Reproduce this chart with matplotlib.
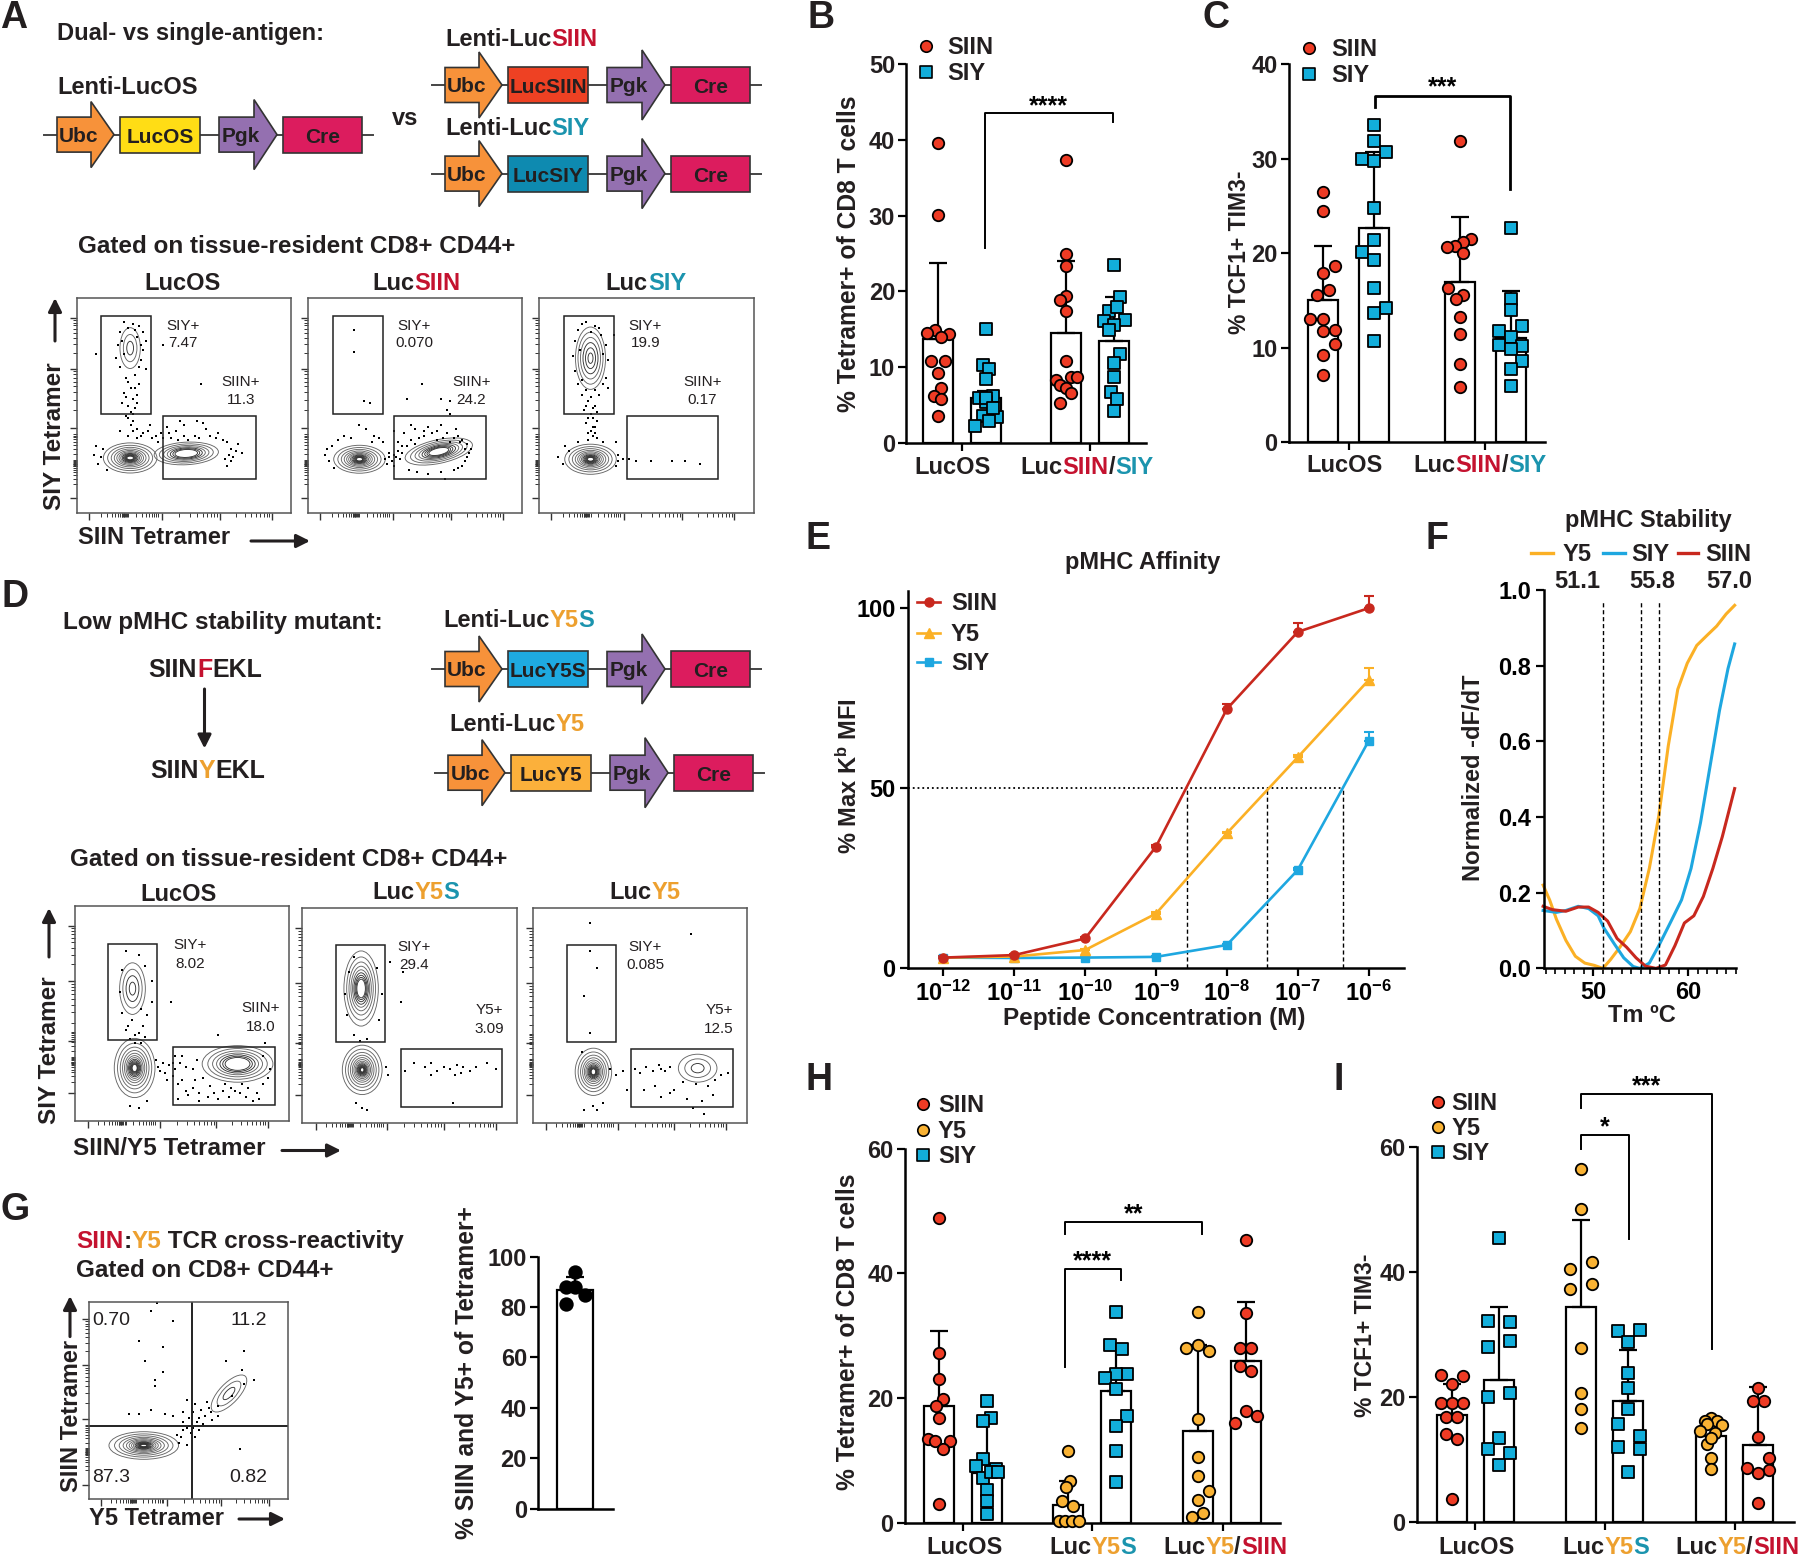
import numpy as np
import matplotlib
matplotlib.use("Agg")
import matplotlib.pyplot as plt
from matplotlib.patches import Polygon, Rectangle, Ellipse

plt.rcParams['font.family'] = ['Liberation Sans', 'DejaVu Sans']
plt.rcParams['font.weight'] = 'bold'
plt.rcParams['mathtext.fontset'] = 'custom'
plt.rcParams['mathtext.rm'] = 'Liberation Sans:bold'
plt.rcParams['mathtext.default'] = 'rm'

W, H = 1800, 1556
INK = '#231f20'
RED_T, BLUE_T, YEL_T = '#c4122f', '#1b94ae', '#eda02f'
SIIN_C, SIY_C, Y5_C = '#ee3b24', '#12aedb', '#f9b233'

# panel B
b_means = [13.7, 5.9, 14.5, 13.5]
b_errs = [10.0, 1.0, 9.5, 5.7]
b_vals = [
    [39.6, 30.1, 14.9, 14.5, 14.4, 14.0, 10.8, 10.8, 9.2, 7.3, 6.2, 5.8, 3.5],
    [15.0, 10.3, 9.7, 8.4, 6.2, 6.0, 5.4, 3.5, 3.4, 2.9, 2.2, 6.0, 4.6],
    [37.3, 25.0, 23.3, 19.4, 18.8, 17.4, 10.8, 8.3, 8.7, 8.7, 7.6, 7.2, 6.6, 5.3],
    [23.5, 19.2, 17.4, 16.1, 16.2, 15.6, 14.9, 18.0, 11.7, 10.6, 8.7, 6.7, 5.8, 4.2],
]
b_dx = [
    [0, 0, -.07, -.23, .22, .07, -.15, .15, 0, .07, -.08, .07, 0],
    [0, -.07, .07, 0, .15, -.15, 0, -.07, .22, .07, -.22, .0, .15],
    [0, 0, 0, 0, -.12, 0, 0, -.22, .1, .22, -.12, 0, .1, -.12],
    [0, .12, -.1, -.22, .22, 0, -.1, .05, .12, 0, 0, -.07, .05, 0],
]
# panel C
c_means = [15.0, 22.7, 17.0, 11.0]
c_errs = [5.8, 8.0, 6.8, 5.0]
c_vals = [
    [26.5, 24.5, 18.6, 17.9, 16.1, 15.6, 13.0, 13.0, 11.9, 11.8, 10.4, 9.2, 7.1],
    [33.5, 31.9, 30.7, 30.0, 29.7, 24.8, 21.4, 20.1, 19.3, 16.3, 14.2, 13.7, 10.7],
    [31.9, 21.5, 21.2, 20.8, 20.7, 20.0, 16.3, 15.6, 15.1, 13.2, 11.5, 8.3, 5.8],
    [22.7, 15.2, 14.0, 12.3, 11.8, 11.1, 10.3, 10.2, 9.9, 8.6, 7.8, 6.0],
]
c_dx = [
    [0, 0, .23, 0, .11, -.12, -.25, 0, .23, 0, .23, 0, 0],
    [0, 0, .23, -.23, 0, 0, 0, -.23, 0, 0, .23, 0, 0],
    [0, .22, .07, -.1, -.25, .07, -.23, .07, -.08, 0, 0, 0, 0],
    [0, 0, 0, .23, -.23, 0, -.23, .23, 0, .23, 0, 0],
]
# panel E
conc = [1e-12, 1e-11, 1e-10, 1e-9, 1e-8, 1e-7, 1e-6]
e_siin = [3.0, 3.7, 8.3, 33.8, 72.0, 93.4, 100.0]
e_siin_err = [0.4, 0.3, 0.4, 0.5, 1.5, 2.4, 3.5]
e_y5 = [3.0, 3.3, 5.1, 15.2, 37.5, 58.6, 80.0]
e_y5_err = [0.3, 0.3, 0.3, 0.4, 0.5, 0.5, 3.4]
e_siy = [3.0, 2.9, 3.0, 3.2, 6.5, 27.3, 63.1]
e_siy_err = [0.4, 0.3, 0.3, 0.3, 0.4, 0.6, 2.5]
e_ec50 = [2.7e-9, 3.7e-8, 4.3e-7]
# panel F
f_y5_t = [44.7, 45.4, 46.1, 47.1, 48.1, 49.1, 50.1, 51.0, 51.8, 52.8, 53.9, 54.9, 55.9, 56.9, 57.9, 58.9, 59.9, 60.9, 62.0, 63.0, 64.0, 64.9]
f_y5 = [.22, .18, .13, .074, .032, .014, .008, 0, .023, .056, .097, .158, .264, .403, .588, .737, .806, .853, .88, .904, .936, .959]
f_siy_t = [44.7, 46.1, 47.1, 48.4, 49.5, 50.5, 51.1, 52.2, 53.2, 54.2, 54.9, 55.9, 56.9, 58.2, 59.3, 60.3, 61.3, 62.3, 63.3, 64.2, 64.9]
f_siy = [.153, .148, .153, .164, .158, .139, .107, .065, .028, .005, 0, .014, .06, .125, .181, .264, .385, .533, .681, .792, .857]
f_siin_t = [44.7, 45.7, 47.1, 48.4, 49.5, 50.5, 51.5, 52.5, 53.5, 54.5, 55.5, 56.6, 57.6, 58.6, 59.6, 60.6, 61.6, 62.6, 63.6, 64.9]
f_siin = [.164, .155, .151, .162, .162, .148, .125, .079, .056, .028, .006, 0, .009, .06, .12, .139, .19, .264, .348, .475]
f_tm = [51.0, 55.0, 56.9]
# panel G
g_mean = [87.0]
g_err = [5.0]
g_vals = [94.0, 88.0, 88.0, 84.9, 81.4]
g_dx = [0, -.37, 0, .37, -.37]
# panel H
h_means = [18.8, 8.0, 2.9, 21.1, 14.8, 26.0]
h_errs = [12.0, 8.0, 3.9, 6.7, 13.8, 9.5]
h_vals = [
    [48.9, 27.2, 23.1, 19.8, 18.8, 16.8, 13.5, 13.1, 13.1, 11.9, 3.1],
    [19.5, 16.8, 16.4, 10.3, 9.1, 7.2, 8.6, 8.1, 8.1, 5.3, 3.5, 1.5],
    [11.5, 6.7, 5.8, 3.5, 2.8, .3, .3, .3, .3],
    [33.8, 28.6, 27.9, 23.9, 23.9, 23.2, 21.5, 17.2, 15.6, 11.6, 6.5],
    [33.9, 28.0, 28.6, 27.6, 16.7, 10.5, 7.5, 5.2, 3.7, 1.6, 1.0],
    [45.3, 33.6, 28.0, 28.0, 25.1, 24.3, 17.9, 17.1, 16.1],
]
h_dx = [
    [0, 0, 0, .07, -.08, 0, -.25, .23, -.1, .08, 0],
    [0, .1, -.07, -.07, -.23, -.07, .2, .1, .23, 0, 0, 0],
    [0, .05, -.05, -.12, .11, -.2, -.07, .08, .23],
    [0, -.12, .12, .23, 0, -.23, 0, .23, 0, 0, 0],
    [0, -.24, 0, .24, 0, 0, 0, .24, 0, .12, -.12],
    [0, 0, -.13, .11, -.13, .11, 0, .23, -.24],
]
# panel I
i_means = [17.1, 22.7, 34.3, 19.3, 13.8, 12.3]
i_errs = [5.0, 11.6, 14.0, 8.2, 3.0, 9.3]
i_vals = [
    [23.5, 23.3, 22.0, 19.0, 19.0, 19.0, 16.8, 16.8, 14.1, 13.2, 3.7],
    [45.4, 32.2, 31.9, 29.0, 27.9, 20.6, 20.0, 13.5, 11.6, 11.0, 9.1],
    [56.4, 50.0, 41.6, 40.4, 38.0, 37.3, 27.8, 20.6, 18.0, 15.0],
    [30.7, 30.6, 28.7, 23.9, 21.4, 18.1, 15.6, 13.8, 12.0, 11.6, 8.0],
    [16.6, 16.2, 16.2, 15.5, 15.7, 14.6, 14.2, 12.5, 13.4, 10.3, 8.4],
    [21.5, 19.4, 19.4, 13.6, 10.2, 8.6, 8.3, 7.9, 3.1],
]
i_dx = [
    [-.23, .24, 0, -.23, 0, .24, -.12, .12, -.12, .12, 0],
    [0, -.23, .24, .24, -.23, .24, -.23, 0, -.23, .24, 0],
    [0, 0, .24, -.23, .24, -.23, 0, 0, 0, 0],
    [.24, -.23, 0, 0, 0, 0, -.23, .24, -.23, .24, 0],
    [0, -.13, .13, .23, -.08, -.24, .08, -.08, 0, 0, 0],
    [0, .11, -.12, 0, .23, -.24, .23, 0, 0],
]

# flow cytometry panels, everything in percent of the plot box
# populations: x, y, width, height, angle, rings
a_pops = [
    [(51, 27.7, 30, 10.5, 3, 7), (24.8, 25.6, 25, 14, 0, 13), (24.8, 76.7, 9.5, 19, 0, 3)],
    [(61, 28.6, 32, 11, 12, 8), (24, 25, 24, 13, 0, 13)],
    [(24, 25, 24, 14, 0, 13), (24, 72, 14, 29, 0, 6)],
]
a_gates = [
    [(11.4, 46, 23.1, 45.5), (40.2, 15.8, 43.4, 29.2)],
    [(11.7, 46, 23.1, 45.5), (40, 15.8, 43, 29.2)],
    [(11.7, 46, 23.1, 45.5), (40.8, 15.8, 42.8, 29.2)],
]
a_text = [
    [('SIY+', 49.3, 87.2), ('7.47', 49.3, 78.9), ('SIIN+', 76.4, 61), ('11.3', 76.4, 52.7)],
    [('SIY+', 49.5, 87.2), ('0.070', 49.5, 78.9), ('SIIN+', 76.2, 61), ('24.2', 76.2, 52.7)],
    [('SIY+', 49.5, 87.2), ('19.9', 49.5, 78.9), ('SIIN+', 76.2, 61), ('0.17', 76.2, 52.7)],
]
a_dots = [
    [(22, 89), (26, 88), (29, 87), (31, 84), (20, 84), (28, 82), (32, 80), (19, 78), (31, 76), (18, 72), (30, 71), (20, 68), (32, 67), (23, 63), (27, 64), (29, 60), (25, 58), (22, 56), (28, 55), (26, 53), (21, 51), (24, 50), (27, 49), (25, 47), (23, 45), (26, 43), (25, 41), (9, 74), (40, 78), (58, 60), (28, 39), (33, 38), (37, 36), (42, 40), (46, 38), (50, 41), (55, 36), (60, 39), (66, 37), (70, 33), (75, 32), (30, 36), (20, 38), (8, 27), (10, 23), (14, 20), (77, 28), (73, 26), (70, 22), (65, 35), (52, 34), (44, 35), (38, 33), (48, 43), (56, 43),
     (24, 86), (27, 85), (21, 80), (30, 78), (22, 74), (29, 68), (24, 61), (28, 51), (23, 54), (27, 58), (26, 46), (24, 44), (26, 38), (24, 36), (28, 35), (31, 37), (35, 35), (40, 35), (43, 37), (47, 34), (50, 36), (57, 35), (62, 36), (68, 34), (72, 30), (74, 29), (71, 27), (69, 25), (72, 24), (12, 30), (11, 26), (9, 31), (34, 41), (39, 37), (59, 42)],
    [(21.6, 85), (21.6, 75), (26, 52), (29, 51), (53, 60), (46, 53), (62, 53), (66, 52), (65, 48), (66, 46), (24, 41), (27, 39), (31, 36), (20, 35), (35, 33), (40, 38), (45, 37), (50, 39), (56, 40), (60, 38), (65, 37), (70, 36), (72, 34), (74, 32), (8, 27), (10, 24), (12, 21), (38, 28), (37, 23), (40, 22), (76, 30), (73, 24), (70, 21), (42, 33), (48, 34), (54, 36), (60, 34), (66, 33), (44, 31), (43, 25), (47, 20), (51, 19), (64, 16),
     (58, 37), (63, 35), (68, 35), (71, 33), (73, 30), (75, 28), (74, 26), (72, 22), (68, 20), (62, 19), (56, 18), (52, 35), (50, 32), (46, 31), (42, 29), (40, 27), (38, 26), (36, 25), (39, 24), (41, 26), (44, 28), (9, 30), (11, 31), (14, 34), (17, 36), (30, 33), (33, 35), (48, 41), (54, 38), (62, 41), (69, 39)],
    [(22, 89), (18, 85), (26, 87), (29, 83), (17, 80), (31, 78), (16, 73), (32, 71), (17, 66), (31, 63), (18, 60), (32, 58), (20, 55), (28, 55), (23, 52), (26, 50), (21, 48), (27, 47), (24, 46), (25, 44), (22, 42), (26, 40), (24, 38), (25, 36), (23, 34), (27, 35), (12, 31), (9, 26), (37, 27), (39, 25), (42, 25), (45, 24), (52, 24), (62, 24), (68, 24), (75, 23), (35, 83), (36, 33), (30, 33), (18, 33),
     (20, 88), (24, 84), (28, 86), (19, 76), (30, 74), (20, 62), (30, 60), (22, 57), (26, 57), (24, 54), (22, 50), (25, 49), (23, 44), (27, 43), (25, 40), (23, 37), (26, 37), (14, 29), (11, 23), (36, 22), (37, 24)],
]
a_yt = [7, 39.7, 67.1, 90.9]
a_yzero = 23.3
a_xt = [5.7, 39.5, 66.8, 90.8]
a_xzero = 22.5

d_pops = [
    [(28, 24.5, 19, 27.5, 0, 13), (27, 61.4, 12, 24, 0, 4), (76, 26.4, 33, 17, 0, 7)],
    [(28, 24.6, 18.5, 23, 0, 15), (27.5, 62.5, 16, 35, 0, 9)],
    [(28.4, 23.7, 17, 22, 0, 13), (77, 25.4, 18, 13, 0, 3)],
]
d_gates = [
    [(15.7, 37.5, 22.6, 44.8), (45.8, 7.4, 47.6, 26.7)],
    [(15.9, 37.5, 22.8, 45.1), (46, 7.2, 47, 27.2)],
    [(16, 37.5, 22.7, 45.1), (46, 7.2, 47.7, 27.2)],
]
d_text = [
    [('SIY+', 54, 81.7), ('8.02', 54, 73), ('SIIN+', 86.6, 52.2), ('18.0', 86.6, 43.4)],
    [('SIY+', 52, 82), ('29.4', 52, 73.4), ('Y5+', 87, 52.3), ('3.09', 87, 43.6)],
    [('SIY+', 52.6, 82), ('0.085', 52.6, 73.4), ('Y5+', 87, 52.3), ('12.5', 87, 43.6)],
]
d_dots = [
    [(24, 79), (30, 77), (33, 72), (22, 70), (36, 65), (21, 60), (36, 55), (22, 50), (34, 49), (24, 42), (30, 41), (26, 38), (33, 39), (28, 36), (31, 36), (45, 55), (67, 40), (39, 25), (41, 27), (44, 26), (47, 24), (49, 27), (52, 25), (50, 19), (55, 15), (60, 20), (65, 13), (70, 17), (75, 14), (80, 11), (85, 13), (90, 20), (88, 30), (53, 12), (58, 9), (63, 16), (72, 11), (78, 17), (83, 9), (47, 30), (43, 19), (26, 7), (30, 6), (34, 9), (48, 10),
     (28, 40), (25, 44), (32, 44), (27, 47), (31, 52), (38, 28), (40, 23), (42, 22), (46, 21), (48, 17), (52, 14), (56, 19), (58, 13), (62, 11), (67, 10), (69, 14), (73, 15), (77, 13), (81, 15), (86, 10), (88, 17), (91, 24), (89, 36), (50, 30), (46, 27), (55, 24), (57, 28)],
    [(24, 77), (22, 70), (35, 72), (20, 60), (37, 60), (21, 50), (36, 48), (24, 41), (30, 39), (27, 38), (47, 70), (46, 56), (41, 75), (39, 26), (40, 22), (48, 24), (52, 28), (57, 26), (60, 28), (63, 24), (66, 26), (69, 25), (72, 27), (75, 26), (78, 24), (81, 26), (86, 28), (90, 25), (71, 22), (74, 23), (60, 22), (28, 7), (30, 6), (25, 9), (70, 9)],
    [(27, 80), (30, 72), (24, 59), (27, 42), (74, 88), (27, 93), (23, 33), (36, 25), (39, 22), (42, 24), (48, 25), (50, 23), (53, 26), (56, 24), (59, 27), (60, 25), (62, 24), (64, 26), (52, 15), (57, 17), (60, 12), (64, 14), (70, 19), (76, 18), (82, 17), (85, 20), (88, 22), (84, 13), (79, 10), (72, 11), (66, 15), (75, 7), (80, 4), (28, 8), (24, 6), (30, 6), (44, 15), (91, 23), (33, 9)],
]
d_yt = [13, 37, 65, 90.6]
d_yzero = 28
d_xt = [6.3, 39.7, 66, 90]
d_xzero = 22.3

g_pops = [(27.4, 26.9, 35, 14, 0, 15), (70.3, 53.3, 24, 10, 47, 3)]
g_text = [('0.70', 10.8, 90.4), ('11.2', 80, 90.4), ('87.3', 10.8, 10.8), ('0.82', 80, 10.8)]
g_dots = [(34, 99), (31, 95), (42, 90), (25, 80), (37, 77), (28, 70), (37, 64), (33, 60), (33, 57), (20, 43), (25, 43), (31, 45), (38, 43), (42, 42), (47, 44), (49, 50), (53, 48), (56, 45), (58, 42), (54, 39), (50, 37), (47, 35), (51, 33), (53, 31), (45, 28), (55, 35), (60, 46), (65, 47), (72, 52), (78, 58), (83, 60), (77, 65), (69, 70), (78, 75), (76, 25), (49, 27), (44, 32), (62, 40), (65, 42),
          (52, 44), (55, 41), (57, 38), (59, 49), (61, 44), (50, 41), (47, 39), (46, 31), (49, 36), (52, 36)]
g_yt = [7, 40.5, 67.7, 91]
g_yzero = 24
g_xt = [6, 39.3, 66.3, 90.5]
g_xzero = 22

fig = plt.figure(figsize=(W / 100, H / 100), dpi=100, facecolor='white')
over = fig.add_axes([0, 0, 1, 1], zorder=10)
over.set_xlim(0, W)
over.set_ylim(H, 0)
over.axis('off')
over.patch.set_visible(False)
rend = fig.canvas.get_renderer()


def box_axes(left, right, top, bottom):
    ax = fig.add_axes([left / W, 1 - bottom / H, (right - left) / W, (bottom - top) / H])
    ax.patch.set_visible(False)
    return ax


def label(x, y, s, size=17, **kw):
    kw.setdefault('ha', 'left')
    kw.setdefault('va', 'center')
    kw.setdefault('color', INK)
    # rotated text sits a bit left of its box centre, flat text a bit high
    if kw.get('rotation'):
        x += 2
    else:
        y += 1.5
    return over.text(x, y, s, fontsize=size, **kw)


def runs(x, y, parts, size=17, center=False):
    # text in several colours on one line
    items = [label(x, y, s, size, color=c) for s, c in parts]
    widths = [t.get_window_extent(rend).width for t in items]
    pos = x - sum(widths) / 2 if center else x
    for t, w in zip(items, widths):
        t.set_x(pos)
        pos += w


def arrow(x0, y0, x1, y1):
    over.annotate('', xy=(x1, y1), xytext=(x0, y0),
                  arrowprops=dict(arrowstyle='-|>', color=INK, lw=2.2, mutation_scale=20, shrinkA=0, shrinkB=0))


def cassette(x0, yc, name, color):
    edge = '#333333'
    over.plot([x0, x0 + 329], [yc, yc], color='#444444', lw=1.4, zorder=1)
    for xa, xh, xt, hh, c, s in [(13, 47, 70, 33, '#f7923a', 'Ubc'), (175, 210, 233, 35, '#9470b0', 'Pgk')]:
        pts = [(xa, -17.5), (xh, -17.5), (xh, -hh), (xt, 0), (xh, hh), (xh, 17.5), (xa, 17.5)]
        over.add_patch(Polygon([(x0 + a, yc + b) for a, b in pts], fc=c, ec=edge, lw=1.2, zorder=2))
        label(x0 + xa + 22, yc, s, 15, ha='center', zorder=3)
    for xa, xb, c, s in [(76, 156, color, name), (239, 318, '#dc1c5e', 'Cre')]:
        over.add_patch(Rectangle((x0 + xa, yc - 18), xb - xa, 36, fc=c, ec=edge, lw=1.2, zorder=2))
        label(x0 + (xa + xb) / 2, yc + 1, s, 15, ha='center', zorder=3)


def flow_plot(box, pops, gates, texts, dots, xt, xzero, yt, yzero):
    ax = box_axes(*box)
    ax.set_xlim(0, 100)
    ax.set_ylim(0, 100)
    for cx, cy, w, h, ang, n in pops:
        for k in range(n):
            # rings crowd together towards the middle of a population
            f = 0.84 ** k if n > 6 else 1 - k / n
            ax.add_patch(Ellipse((cx, cy), w * f, h * f, angle=ang, fc='none',
                                 ec='#666666' if k < n / 2 else '#333333', lw=0.65))
    xs, ys = zip(*dots)
    ax.scatter(xs, ys, s=1.3, color='black', marker='s', lw=0)
    for x, y, w, h in gates:
        ax.add_patch(Rectangle((x, y), w, h, fc='none', ec='#222222', lw=1.1))
    for s, x, y in texts:
        ax.text(x, y, s, fontsize=11, fontweight='normal', ha='center', va='center', color=INK)
    for sp in ax.spines.values():
        sp.set_color('#555555')
        sp.set_linewidth(1.1)
    ax.set_xticks(xt)
    ax.set_yticks(yt)
    ax.set_xticklabels([])
    ax.set_yticklabels([])
    ax.tick_params(length=5, width=1, color='#333333')
    decade = np.log10(np.arange(2, 10))
    xm = [xzero + d for d in (-1.5, -1, -.5, 0, .5, 1, 1.5)]
    ym = [yzero + d for d in (-1.5, -1, -.5, 0, .5, 1, 1.5)]
    for a, b in zip(xt[1:], xt[2:]):
        xm += list(a + (b - a) * decade)
    for a, b in zip(yt[1:], yt[2:]):
        ym += list(a + (b - a) * decade)
    xm += list(xzero - 16 * (1 - decade)) + list(xzero + 16 * decade)
    ym += list(yzero - 14 * (1 - decade)) + list(yzero + 14 * decade)
    ax.set_xticks(xm, minor=True)
    ax.set_yticks(ym, minor=True)
    ax.tick_params(which='minor', length=3, width=0.7, color='#333333')
    return ax


def bar_panel(box, c0, u, ymax, yticks, means, errs, vals, dxs, xpos, colors, marks, groups, cap=9.0, ms=68):
    left, right, top, bottom = box
    ax = box_axes(*box)
    ax.set_xlim((left - c0) / u, (right - c0) / u)
    ax.set_ylim(0, ymax)
    for sp in ('top', 'right'):
        ax.spines[sp].set_visible(False)
    for sp in ('left', 'bottom'):
        ax.spines[sp].set_linewidth(1.8)
    w = 30.0 / u
    ax.bar(xpos, means, width=w, fc='white', ec='black', lw=1.6, zorder=1)
    ax.errorbar(xpos, means, yerr=[np.zeros(len(errs)), errs], fmt='none', ecolor='black',
                elinewidth=1.6, capsize=cap * 0.72, capthick=1.6, zorder=2)
    for p, v, dx, c, m in zip(xpos, vals, dxs, colors, marks):
        ax.scatter(np.array(dx) + p, v, s=ms, color=c, marker=m, edgecolor='black', linewidth=1.3,
                   zorder=3, clip_on=False)
    ax.set_xticks(groups)
    ax.set_xticklabels([])
    ax.set_yticks(yticks)
    ax.tick_params(axis='both', length=6, width=1.6, labelsize=17, pad=2)
    ax.tick_params(axis='y', labelcolor=INK)
    return ax


def bracket(ax, x0, x1, ytop, y0, y1, star, ystar, lw=1.4):
    ax.plot([x0, x0, x1, x1], [y0, ytop, ytop, y1], color='black', lw=lw, clip_on=False, zorder=4)
    ax.annotate(star, ((x0 + x1) / 2, ystar), xytext=(0, -3.5), textcoords='offset points', fontsize=18,
                ha='center', va='center', color='black', annotation_clip=False)


def dot_legend(x, tx, items, size=17):
    for yy, s, c, m in items:
        over.scatter([x], [yy], s=68, color=c, marker=m, edgecolor='black', linewidth=1.2)
        label(tx, yy, s, size)


# panel letters
for s, x, y in [('A', 0, 16), ('B', 807, 16), ('C', 1203, 16), ('D', 2, 595), ('E', 806, 537),
                ('F', 1426, 537), ('G', 1, 1208), ('H', 806, 1079), ('I', 1333, 1079)]:
    label(x, y, s, 27)

# panel A schematics
label(57, 32, 'Dual- vs single-antigen:')
label(57, 86, 'Lenti-LucOS')
label(392, 117, 'vs')
runs(445, 38, [('Lenti-Luc', INK), ('SIIN', RED_T)])
runs(445, 127, [('Lenti-Luc', INK), ('SIY', BLUE_T)])
cassette(44, 134.6, 'LucOS', '#ffdd15')
cassette(432, 85, 'LucSIIN', '#ee4123')
cassette(432, 173.6, 'LucSIY', '#0e8ab0')
label(78, 245, 'Gated on tissue-resident CD8+ CD44+', 17.5)
runs(182, 282, [('LucOS', INK)], center=True)
runs(416, 282, [('Luc', INK), ('SIIN', RED_T)], center=True)
runs(646, 282, [('Luc', INK), ('SIY', BLUE_T)], center=True)
for i, (x0, x1) in enumerate([(77, 291.3), (308, 522.4), (539, 753.6)]):
    flow_plot((x0, x1, 298, 513), a_pops[i], a_gates[i], a_text[i], a_dots[i], a_xt, a_xzero, a_yt, a_yzero)
label(53, 436, 'SIY Tetramer', 17.5, rotation=90, ha='center')
arrow(55, 341, 55, 298)
label(78, 536, 'SIIN Tetramer')
arrow(251, 541, 310, 541)

# panel B
ax_b = bar_panel((906.3, 1145.6, 64, 443), 938, 48, 50, [0, 10, 20, 30, 40, 50], b_means, b_errs, b_vals, b_dx,
                 [0, 1, 2.67, 3.67], [SIIN_C, SIY_C, SIIN_C, SIY_C], ['o', 's', 'o', 's'], [.5, 3.17])
bracket(ax_b, 0.98, 3.64, 43.5, 25.7, 42.3, '****', 45)
dot_legend(926, 947, [(45.7, 'SIIN', SIIN_C, 'o'), (72, 'SIY', SIY_C, 's')])
label(847, 254, '% Tetramer+ of CD8 T cells', 17.7, rotation=90, ha='center')
runs(953, 466, [('LucOS', INK)], center=True)
runs(1087, 466, [('Luc', INK), ('SIIN', RED_T), ('/', INK), ('SIY', BLUE_T)], center=True)

# panel C
ax_c = bar_panel((1288.5, 1545, 64, 442.3), 1323, 51, 40, [0, 10, 20, 30, 40], c_means, c_errs, c_vals, c_dx,
                 [0, 1, 2.68, 3.68], [SIIN_C, SIY_C, SIIN_C, SIY_C], ['o', 's', 'o', 's'], [.5, 3.18])
bracket(ax_c, 1.01, 3.67, 36.6, 35.5, 26.8, '***', 38, lw=2)
dot_legend(1309, 1331, [(48, 'SIIN', SIIN_C, 'o'), (74, 'SIY', SIY_C, 's')])
label(1238, 252, '% TCF1+ TIM3-', 16.5, rotation=90, ha='center')
runs(1345, 464, [('LucOS', INK)], center=True)
runs(1480, 464, [('Luc', INK), ('SIIN', RED_T), ('/', INK), ('SIY', BLUE_T)], center=True)

# panel D
label(63, 621, 'Low pMHC stability mutant:', 17.5)
runs(205.5, 668, [('SIIN', INK), ('F', RED_T), ('EKL', INK)], 18, center=True)
arrow(204.5, 689, 204.5, 748.5)
runs(207.5, 769, [('SIIN', INK), ('Y', YEL_T), ('EKL', INK)], 18, center=True)
runs(443, 619, [('Lenti-Luc', INK), ('Y5', YEL_T), ('S', BLUE_T)])
runs(449, 723, [('Lenti-Luc', INK), ('Y5', YEL_T)])
cassette(432, 669, 'LucY5S', '#1eaae1')
cassette(435, 772.7, 'LucY5', '#fbb03b')
label(70.5, 858, 'Gated on tissue-resident CD8+ CD44+', 17.5)
runs(179, 893, [('LucOS', INK)], center=True)
runs(415.6, 891, [('Luc', INK), ('Y5', YEL_T), ('S', BLUE_T)], center=True)
runs(645, 891, [('Luc', INK), ('Y5', YEL_T)], center=True)
for i, bx in enumerate([(74.6, 289, 905.6, 1120.7), (302, 517, 908, 1122.7), (532.5, 747, 908, 1122.7)]):
    flow_plot(bx, d_pops[i], d_gates[i], d_text[i], d_dots[i], d_xt, d_xzero, d_yt, d_yzero)
label(48, 1050, 'SIY Tetramer', 17.5, rotation=90, ha='center')
arrow(49, 957, 49, 908)
label(73, 1147, 'SIIN/Y5 Tetramer', 17.5)
arrow(282, 1150.5, 341, 1150.5)

# panel E
ax_e = box_axes(908, 1404, 590.5, 968.4)
ax_e.set_xscale('log')
ax_e.set_xlim(10 ** -12.5, 10 ** -5.5)
ax_e.set_ylim(0, 104.9)
for sp in ('top', 'right'):
    ax_e.spines[sp].set_visible(False)
for sp in ('left', 'bottom'):
    ax_e.spines[sp].set_linewidth(1.8)
for ys, es, c, m, ms in [(e_siy, e_siy_err, '#1ea7e0', 's', 6), (e_y5, e_y5_err, '#fbb025', '^', 6.5),
                         (e_siin, e_siin_err, '#c8281e', 'o', 6.5)]:
    ax_e.errorbar(conc, ys, yerr=[np.zeros(len(es)), es], color=c, marker=m, ms=ms, lw=1.9, elinewidth=1.5,
                  capsize=3.5, capthick=1.5, clip_on=False)
ax_e.plot([10 ** -12.5, e_ec50[2]], [50, 50], color='black', lw=1.3, ls=':')
for c in e_ec50:
    ax_e.plot([c, c], [0, 50], color='black', lw=1, ls='--', dashes=(3, 2))
ax_e.set_xticks(conc)
ax_e.set_xticklabels(['$10^{%d}$' % e for e in range(-12, -5)])
ax_e.xaxis.set_minor_locator(matplotlib.ticker.NullLocator())
ax_e.set_yticks([0, 50, 100])
ax_e.tick_params(axis='both', length=6, width=1.6, labelsize=17, pad=3)
for yy, s, c, m, ms in [(602, 'SIIN', '#c8281e', 'o', 6.5), (633, 'Y5', '#fbb025', '^', 6.5), (662, 'SIY', '#1ea7e0', 's', 6)]:
    over.plot([917, 940], [yy, yy], color=c, lw=1.9, marker=None)
    over.plot([928.5], [yy], color=c, marker=m, ms=ms)
    label(951, yy, s)
label(1143, 561, 'pMHC Affinity', ha='center')
label(1154, 1017.5, 'Peptide Concentration (M)', 17.5, ha='center')
label(847, 776, '% Max K$^{b}$ MFI', rotation=90, ha='center')

# panel F
ax_f = box_axes(1543.6, 1735.6, 589.8, 968.4)
ax_f.set_xlim(44.75, 65)
ax_f.set_ylim(0, 1)
for sp in ('top', 'right'):
    ax_f.spines[sp].set_visible(False)
for sp in ('left', 'bottom'):
    ax_f.spines[sp].set_linewidth(1.8)
for t, v, c in [(f_y5_t, f_y5, '#fbb025'), (f_siy_t, f_siy, '#1ea7e0'), (f_siin_t, f_siin, '#c8281e')]:
    ax_f.plot(t, v, color=c, lw=2.2, clip_on=False, solid_joinstyle='round')
for t in f_tm:
    ax_f.plot([t, t], [0, 0.97], color='black', lw=1, dashes=(3, 2))
ax_f.set_xticks([50, 60])
ax_f.set_xticks(range(45, 66), minor=True)
ax_f.set_yticks([0, .2, .4, .6, .8, 1.0])
ax_f.set_yticklabels(['0.0', '0.2', '0.4', '0.6', '0.8', '1.0'])
ax_f.tick_params(axis='both', length=6, width=1.6, labelsize=17, pad=3)
ax_f.tick_params(which='minor', length=4, width=1.2)
label(1648, 519, 'pMHC Stability', ha='center')
for x0, x1, tx, s, c in [(1531, 1553, 1563, 'Y5', '#fbb025'), (1603, 1625, 1631, 'SIY', '#1ea7e0'), (1678, 1698, 1705, 'SIIN', '#c8281e')]:
    over.plot([x0, x1], [553, 553], color=c, lw=2.4)
    label(tx, 553, s)
for x, s in [(1577, '51.1'), (1652, '55.8'), (1729, '57.0')]:
    label(x, 580, s, ha='center')
label(1471.5, 777.5, 'Normalized -dF/dT', rotation=90, ha='center')
label(1641.5, 1014, 'Tm \u00baC', ha='center')

# panel G
runs(76, 1239.6, [('SIIN', RED_T), (':', INK), ('Y5', YEL_T), (' TCR cross-reactivity', INK)], 17.5)
label(76, 1269, 'Gated on CD8+ CD44+', 17.5)
ax_gf = flow_plot((89.3, 288, 1301.5, 1498.5), g_pops, [], g_text, g_dots, g_xt, g_xzero, g_yt, g_yzero)
ax_gf.axvline(51.5, color='#222222', lw=1.4)
ax_gf.axhline(37, color='#222222', lw=1.4)
for t in ax_gf.texts:
    t.set_fontsize(14)
label(69, 1416, 'SIIN Tetramer', rotation=90, ha='center')
arrow(70, 1336.6, 70, 1296)
label(89, 1517, 'Y5 Tetramer')
arrow(239, 1519, 285, 1519)
ax_g = bar_panel((538, 612.5, 1256.8, 1508.5), 575.4, 25, 100, [0, 20, 40, 60, 80, 100], g_mean, g_err, [g_vals], [g_dx],
                 [0], ['black'], ['o'], [], ms=82)
ax_g.patches[0].set_width(36 / 25)
ax_g.patches[0].set_x(-18 / 25)
label(465, 1373, '% SIIN and Y5+ of Tetramer+', 17.7, rotation=90, ha='center')

# panel H
h_pos = [0, 1, 2.72, 3.73, 5.46, 6.48]
h_cols = [SIIN_C, SIY_C, Y5_C, SIY_C, Y5_C, SIIN_C]
h_marks = ['o', 's', 'o', 's', 'o', 'o']
ax_h = bar_panel((904.7, 1279.5, 1148.7, 1523), 939.4, 47.3, 60, [0, 20, 40, 60], h_means, h_errs, h_vals, h_dx,
                 h_pos, h_cols, h_marks, [.49, 3.22, 6.0])
bracket(ax_h, 2.65, 5.55, 48.2, 46.4, 46.4, '**', 50.3)
bracket(ax_h, 2.65, 3.84, 40.7, 25, 39, '****', 42.8)
dot_legend(922.7, 938, [(1104, 'SIIN', SIIN_C, 'o'), (1130, 'Y5', Y5_C, 'o'), (1155, 'SIY', SIY_C, 's')])
label(846, 1332, '% Tetramer+ of CD8 T cells', 17.7, rotation=90, ha='center')
runs(964, 1546, [('LucOS', INK)], center=True)
runs(1093, 1546, [('Luc', INK), ('Y5', YEL_T), ('S', BLUE_T)], center=True)
runs(1225, 1546, [('Luc', INK), ('Y5', YEL_T), ('/', INK), ('SIIN', RED_T)], center=True)

# panel I
i_pos = [0, 1, 2.74, 3.74, 5.49, 6.49]
i_cols = [SIIN_C, SIY_C, Y5_C, SIY_C, Y5_C, SIIN_C]
ax_i = bar_panel((1416.7, 1793.5, 1146.7, 1522), 1451.5, 47.3, 60, [0, 20, 40, 60], i_means, i_errs, i_vals, i_dx,
                 i_pos, i_cols, h_marks, [.49, 3.24, 5.99])
bracket(ax_i, 2.74, 5.5, 68.5, 66.2, 27.6, '***', 70.5)
bracket(ax_i, 2.74, 3.75, 61.9, 59.7, 45.3, '*', 63.9)
dot_legend(1438, 1451.5, [(1101.7, 'SIIN', SIIN_C, 'o'), (1126.7, 'Y5', Y5_C, 'o'), (1151.7, 'SIY', SIY_C, 's')])
label(1363, 1335, '% TCF1+ TIM3-', 16.5, rotation=90, ha='center')
runs(1476, 1546, [('LucOS', INK)], center=True)
runs(1606, 1546, [('Luc', INK), ('Y5', YEL_T), ('S', BLUE_T)], center=True)
runs(1737, 1546, [('Luc', INK), ('Y5', YEL_T), ('/', INK), ('SIIN', RED_T)], center=True)

fig.savefig('out.png', dpi=100)
